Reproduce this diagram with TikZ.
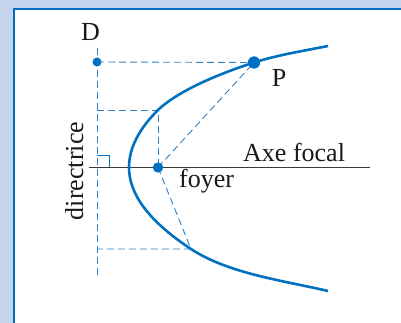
\documentclass[tikz,border=0pt]{standalone}
\usepackage{fontspec}
\setmainfont{Liberation Serif}
\definecolor{mainblue}{HTML}{0070C0}
\definecolor{dashblue}{HTML}{2F80C8}
\definecolor{bgblue}{HTML}{C6D5EE}
\definecolor{axisgray}{HTML}{3A3A3A}
\begin{document}
\begin{tikzpicture}[x=1pt,y=-1pt,
  guide/.style={draw=dashblue,line width=0.9pt,dash pattern=on 7pt off 4pt},
  dot/.style={circle,fill=mainblue,inner sep=0pt},
  lbl/.style={font=\fontsize{26}{30}\selectfont,text=black!90,inner sep=0pt}]
\useasboundingbox (0,0) rectangle (401,323);
\fill[bgblue] (0,0) rectangle (401,323);
\begin{scope}
\clip (0,0) rectangle (401,323);
\draw[mainblue,line width=2.6pt,fill=white] (14,9) rectangle (420,340);
\end{scope}
% key points
\coordinate (Dt) at (97,48);
\coordinate (Db) at (97,276);
\coordinate (H1) at (97,110);
\coordinate (H2) at (97,249);
\coordinate (L1) at (158,110);
\coordinate (L2) at (191,249);
\coordinate (V) at (129,167.5);
\coordinate (E1) at (328,46);
\coordinate (E2) at (328,291);
\coordinate (Al) at (89,167.5);
\coordinate (Ar) at (370,167.5);
% directrix
\draw[guide] (Dt) -- (Db);
% axis
\draw[axisgray,line width=1.2pt] (Al) -- (Ar);
% right angle mark
\draw[mainblue,line width=0.9pt] (97,155) -- (109.5,155) -- (109.5,167.5);
% dots
\node[dot,minimum size=9pt] (D) at (97,62) {};
\node[dot,minimum size=12pt] (P) at (254,62.5) {};
\node[dot,minimum size=10pt] (F) at (158,167.5) {};
% dashed guides
\draw[guide] (D.center) -- (P.center);
\draw[guide] (H1) -- (L1) -- (F.center);
\draw[guide] (F.center) -- (P.center);
\draw[guide] (F.center) -- (L2) -- (H2);
% parabola
\draw[mainblue,line width=2.6pt]
  (E1) .. controls (303.5,50.9) and (277.8,54.9) .. (P.center)
       .. controls (225.4,71.65) and (179.7,89.2) .. (L1)
       .. controls (138.7,129.2) and (129,148.3) .. (V)
       .. controls (129,194.7) and (149.7,221.8) .. (L2)
       .. controls (228.6,273.75) and (284.2,280.7) .. (E2);
\node[dot,minimum size=12pt] at (P) {};
\node[dot,minimum size=10pt] at (F) {};
% labels
\node[lbl,anchor=base] (Dl) at (90.5,40.7) {D};
\node[lbl,anchor=base] (Pl) at (279,87) {P};
\node[lbl,anchor=base west] (Fl) at (179,187.5) {foyer};
\node[lbl,anchor=base west] (Ax) at (243,161.7) {Axe focal};
\node[lbl,anchor=base,rotate=90] (Dir) at (83,171) {directrice};
\end{tikzpicture}
\end{document}
